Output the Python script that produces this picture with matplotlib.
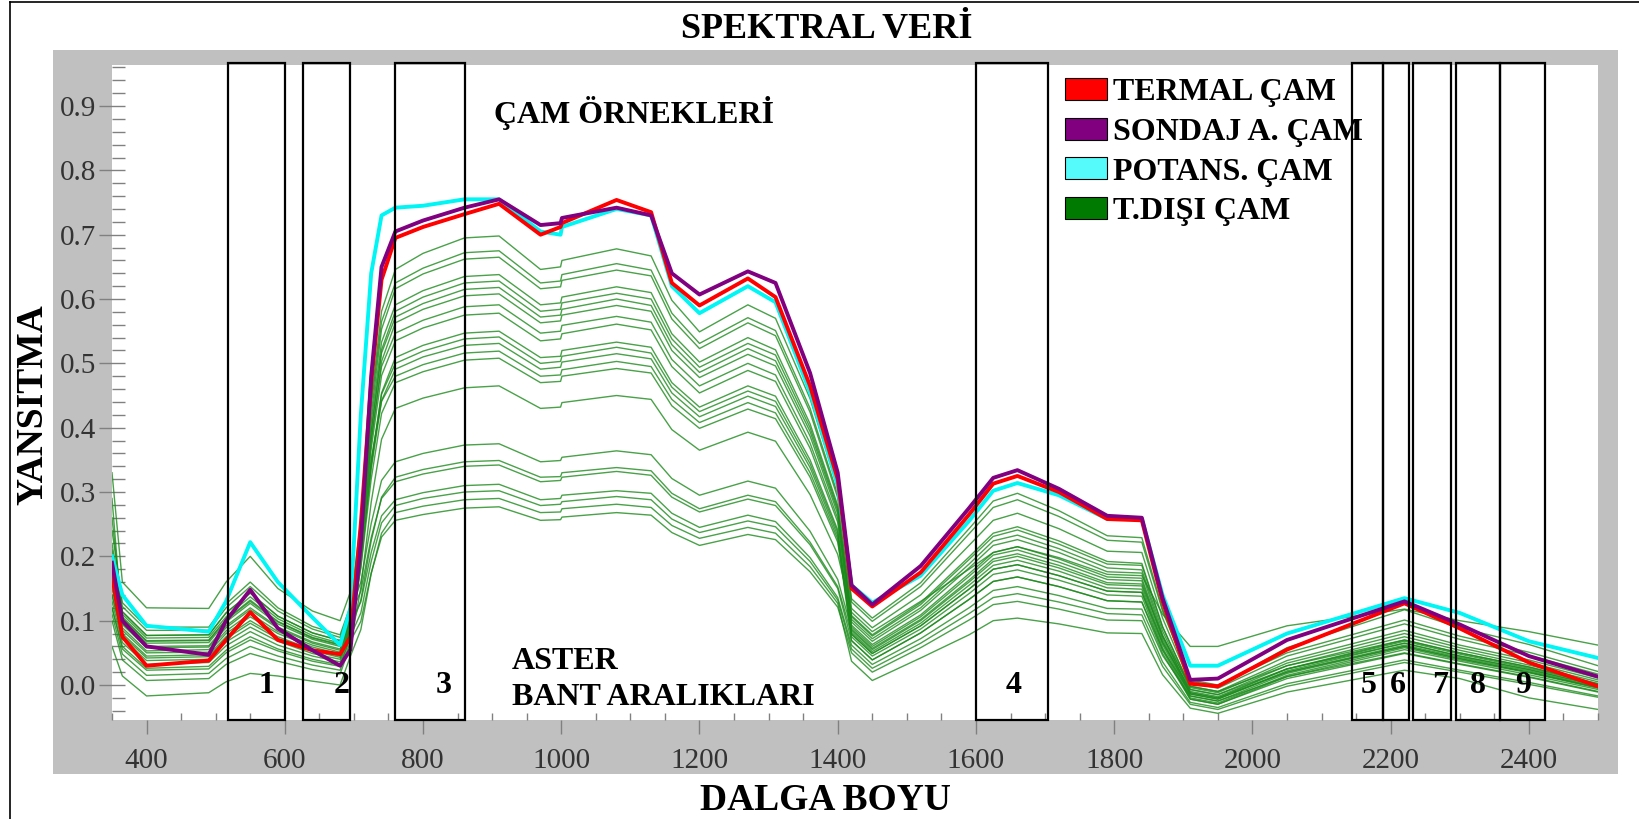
import matplotlib
matplotlib.use("Agg")
import matplotlib.pyplot as plt
from matplotlib.patches import Rectangle, Patch
from matplotlib.lines import Line2D
from matplotlib.ticker import MultipleLocator

plt.rcParams['font.family'] = ['Liberation Serif', 'DejaVu Serif']

W, H = 1639, 819

# wavelengths (nm) shared by every spectrum
wavelength = [350, 365, 400, 490, 515, 550, 590, 640, 680, 695, 710, 725, 740, 760,
              800, 860, 910, 970, 999, 1001, 1080, 1130, 1160, 1200, 1270, 1310, 1360,
              1400, 1420, 1450, 1520, 1590, 1625, 1660, 1720, 1790, 1840, 1870, 1910,
              1950, 2050, 2220, 2300, 2400, 2500]

termal = [0.170, 0.075, 0.030, 0.038, 0.070, 0.113, 0.070, 0.054, 0.048, 0.075, 0.250,
          0.470, 0.630, 0.695, 0.712, 0.732, 0.748, 0.700, 0.712, 0.718, 0.754, 0.735,
          0.625, 0.590, 0.632, 0.603, 0.465,
          0.320, 0.150, 0.122, 0.175, 0.265, 0.313, 0.325, 0.300, 0.258, 0.256, 0.130, 0.002,
          -0.002, 0.055, 0.127, 0.088, 0.035, -0.002]

sondaj = [0.190, 0.100, 0.060, 0.047, 0.100, 0.148, 0.088, 0.054, 0.030, 0.055, 0.220,
          0.480, 0.650, 0.705, 0.722, 0.742, 0.755, 0.715, 0.718, 0.726, 0.742, 0.730,
          0.640, 0.607, 0.643, 0.625, 0.485,
          0.330, 0.155, 0.125, 0.185, 0.275, 0.322, 0.334, 0.305, 0.263, 0.260, 0.135, 0.008,
          0.010, 0.070, 0.130, 0.094, 0.045, 0.013]

potans = [0.200, 0.140, 0.092, 0.083, 0.130, 0.222, 0.160, 0.105, 0.062, 0.120, 0.420,
          0.640, 0.730, 0.742, 0.745, 0.755, 0.755, 0.705, 0.700, 0.712, 0.740, 0.730,
          0.620, 0.578, 0.620, 0.595, 0.455,
          0.310, 0.155, 0.128, 0.170, 0.255, 0.302, 0.314, 0.295, 0.258, 0.258, 0.140, 0.030,
          0.030, 0.080, 0.135, 0.112, 0.068, 0.042]

t_disi = [
    [0.190, 0.104, 0.068, 0.069, 0.101, 0.130, 0.098, 0.073, 0.062, 0.107, 0.252, 0.442, 0.581, 0.646,
     0.671, 0.695, 0.698, 0.646, 0.650, 0.660, 0.678, 0.667, 0.598, 0.549, 0.591, 0.570, 0.445,
     0.306, 0.134, 0.104, 0.159, 0.243, 0.286, 0.298, 0.271, 0.232, 0.229, 0.118, 0.006, -0.002, 0.058,
     0.117, 0.089, 0.063, 0.030],
    [0.240, 0.128, 0.090, 0.090, 0.126, 0.160, 0.120, 0.091, 0.078, 0.123, 0.256, 0.434, 0.565, 0.625,
     0.648, 0.672, 0.675, 0.625, 0.628, 0.638, 0.655, 0.645, 0.578, 0.531, 0.571, 0.551, 0.430,
     0.296, 0.129, 0.099, 0.153, 0.235, 0.276, 0.288, 0.262, 0.225, 0.222, 0.115, 0.008, 0.000, 0.050,
     0.101, 0.076, 0.051, 0.021],
    [0.170, 0.096, 0.060, 0.061, 0.092, 0.120, 0.090, 0.067, 0.056, 0.101, 0.238, 0.420, 0.553, 0.616,
     0.639, 0.662, 0.665, 0.616, 0.619, 0.629, 0.645, 0.636, 0.569, 0.523, 0.563, 0.543, 0.424,
     0.291, 0.119, 0.089, 0.140, 0.217, 0.256, 0.267, 0.243, 0.208, 0.206, 0.104, 0.003, -0.005, 0.045,
     0.095, 0.071, 0.046, 0.017],
    [0.210, 0.114, 0.077, 0.078, 0.112, 0.143, 0.107, 0.081, 0.069, 0.114, 0.239, 0.409, 0.533, 0.591,
     0.613, 0.635, 0.638, 0.591, 0.594, 0.603, 0.619, 0.610, 0.546, 0.502, 0.540, 0.521, 0.406,
     0.279, 0.108, 0.078, 0.128, 0.199, 0.236, 0.246, 0.224, 0.192, 0.189, 0.091, -0.004, -0.012, 0.034,
     0.080, 0.058, 0.035, 0.008],
    [0.150, 0.080, 0.045, 0.047, 0.075, 0.100, 0.075, 0.055, 0.045, 0.090, 0.219, 0.393, 0.521, 0.581,
     0.603, 0.625, 0.628, 0.581, 0.584, 0.594, 0.609, 0.600, 0.538, 0.494, 0.531, 0.513, 0.400,
     0.275, 0.106, 0.076, 0.125, 0.195, 0.231, 0.241, 0.219, 0.188, 0.186, 0.090, -0.002, -0.010, 0.038,
     0.085, 0.062, 0.039, 0.011],
    [0.260, 0.110, 0.073, 0.074, 0.106, 0.137, 0.103, 0.077, 0.065, 0.110, 0.230, 0.395, 0.516, 0.572,
     0.593, 0.615, 0.618, 0.572, 0.575, 0.584, 0.600, 0.590, 0.529, 0.486, 0.523, 0.504, 0.394,
     0.271, 0.102, 0.072, 0.120, 0.188, 0.224, 0.233, 0.212, 0.182, 0.179, 0.084, -0.007, -0.015, 0.030,
     0.075, 0.054, 0.031, 0.005],
    [0.130, 0.066, 0.032, 0.035, 0.061, 0.083, 0.062, 0.045, 0.036, 0.081, 0.207, 0.377, 0.503, 0.563,
     0.584, 0.605, 0.608, 0.563, 0.566, 0.575, 0.590, 0.581, 0.520, 0.478, 0.514, 0.496, 0.387,
     0.266, 0.098, 0.068, 0.116, 0.182, 0.217, 0.226, 0.206, 0.176, 0.174, 0.078, -0.012, -0.020, 0.025,
     0.070, 0.050, 0.028, 0.002],
    [0.220, 0.122, 0.085, 0.085, 0.120, 0.153, 0.115, 0.087, 0.074, 0.119, 0.228, 0.382, 0.495, 0.547,
     0.567, 0.588, 0.591, 0.547, 0.550, 0.559, 0.573, 0.564, 0.506, 0.465, 0.500, 0.482, 0.376,
     0.259, 0.093, 0.063, 0.109, 0.173, 0.206, 0.215, 0.196, 0.168, 0.166, 0.075, -0.010, -0.018, 0.025,
     0.068, 0.048, 0.026, 0.001],
    [0.290, 0.094, 0.058, 0.059, 0.089, 0.117, 0.088, 0.065, 0.054, 0.099, 0.210, 0.367, 0.481, 0.535,
     0.555, 0.575, 0.578, 0.535, 0.538, 0.546, 0.561, 0.552, 0.495, 0.454, 0.489, 0.472, 0.368,
     0.253, 0.090, 0.060, 0.106, 0.169, 0.202, 0.210, 0.191, 0.164, 0.162, 0.071, -0.014, -0.022, 0.022,
     0.065, 0.045, 0.024, -0.001],
    [0.120, 0.056, 0.023, 0.025, 0.050, 0.070, 0.053, 0.037, 0.029, 0.074, 0.184, 0.340, 0.454, 0.509,
     0.528, 0.547, 0.550, 0.509, 0.511, 0.520, 0.533, 0.525, 0.470, 0.432, 0.465, 0.449, 0.350,
     0.241, 0.082, 0.052, 0.096, 0.155, 0.186, 0.194, 0.177, 0.151, 0.149, 0.063, -0.017, -0.025, 0.018,
     0.060, 0.041, 0.020, -0.004],
    [0.180, 0.102, 0.065, 0.066, 0.098, 0.127, 0.095, 0.071, 0.060, 0.105, 0.203, 0.347, 0.452, 0.500,
     0.519, 0.538, 0.541, 0.500, 0.503, 0.511, 0.525, 0.516, 0.463, 0.425, 0.457, 0.441, 0.344,
     0.237, 0.079, 0.049, 0.092, 0.149, 0.180, 0.187, 0.170, 0.146, 0.144, 0.058, -0.020, -0.028, 0.015,
     0.058, 0.039, 0.019, -0.005],
    [0.160, 0.085, 0.050, 0.051, 0.080, 0.106, 0.080, 0.059, 0.048, 0.093, 0.192, 0.336, 0.442, 0.491,
     0.510, 0.528, 0.531, 0.491, 0.494, 0.502, 0.515, 0.507, 0.454, 0.417, 0.449, 0.433, 0.338,
     0.232, 0.075, 0.045, 0.087, 0.142, 0.172, 0.179, 0.163, 0.140, 0.138, 0.054, -0.022, -0.030, 0.013,
     0.055, 0.037, 0.016, -0.007],
    [0.330, 0.160, 0.120, 0.119, 0.160, 0.200, 0.150, 0.115, 0.100, 0.145, 0.225, 0.350, 0.441, 0.480,
     0.498, 0.516, 0.519, 0.480, 0.482, 0.490, 0.503, 0.495, 0.444, 0.408, 0.439, 0.423, 0.330,
     0.227, 0.069, 0.039, 0.081, 0.133, 0.161, 0.168, 0.153, 0.131, 0.129, 0.049, -0.022, -0.030, 0.010,
     0.049, 0.032, 0.012, -0.011],
    [0.140, 0.077, 0.042, 0.044, 0.072, 0.096, 0.072, 0.053, 0.043, 0.088, 0.182, 0.320, 0.422, 0.470,
     0.487, 0.505, 0.508, 0.470, 0.472, 0.480, 0.492, 0.485, 0.434, 0.399, 0.429, 0.414, 0.323,
     0.222, 0.085, 0.055, 0.100, 0.160, 0.192, 0.200, 0.182, 0.156, 0.154, 0.067, -0.014, -0.022, 0.020,
     0.062, 0.043, 0.022, -0.003],
    [0.100, 0.039, 0.007, 0.010, 0.032, 0.049, 0.037, 0.024, 0.017, 0.062, 0.151, 0.284, 0.382, 0.430,
     0.446, 0.462, 0.465, 0.430, 0.432, 0.439, 0.450, 0.444, 0.397, 0.365, 0.393, 0.379, 0.296,
     0.203, 0.113, 0.083, 0.130, 0.180, 0.206, 0.215, 0.198, 0.172, 0.170, 0.110, 0.060, 0.060, 0.092,
     0.118, 0.100, 0.083, 0.062],
    [0.200, 0.114, 0.077, 0.078, 0.112, 0.143, 0.107, 0.081, 0.069, 0.114, 0.160, 0.251, 0.318, 0.347,
     0.360, 0.373, 0.375, 0.347, 0.349, 0.354, 0.364, 0.358, 0.321, 0.295, 0.317, 0.306, 0.239,
     0.164, 0.087, 0.057, 0.102, 0.163, 0.196, 0.204, 0.186, 0.159, 0.157, 0.076, -0.002, -0.010, 0.030,
     0.070, 0.050, 0.028, 0.002],
    [0.140, 0.072, 0.038, 0.040, 0.067, 0.090, 0.068, 0.049, 0.040, 0.085, 0.132, 0.224, 0.292, 0.323,
     0.335, 0.347, 0.349, 0.323, 0.324, 0.330, 0.338, 0.333, 0.298, 0.274, 0.295, 0.285, 0.222,
     0.153, 0.079, 0.049, 0.092, 0.149, 0.180, 0.187, 0.170, 0.146, 0.144, 0.066, -0.007, -0.015, 0.025,
     0.065, 0.045, 0.024, -0.001],
    [0.190, 0.106, 0.069, 0.070, 0.102, 0.132, 0.099, 0.074, 0.063, 0.108, 0.146, 0.229, 0.290, 0.316,
     0.328, 0.340, 0.342, 0.316, 0.318, 0.323, 0.332, 0.326, 0.292, 0.269, 0.289, 0.279, 0.218,
     0.150, 0.069, 0.039, 0.081, 0.133, 0.161, 0.168, 0.153, 0.131, 0.129, 0.055, -0.012, -0.020, 0.020,
     0.060, 0.041, 0.020, -0.004],
    [0.170, 0.089, 0.053, 0.055, 0.084, 0.111, 0.083, 0.062, 0.051, 0.096, 0.129, 0.206, 0.263, 0.288,
     0.299, 0.310, 0.312, 0.288, 0.290, 0.295, 0.302, 0.298, 0.267, 0.245, 0.264, 0.254, 0.198,
     0.136, 0.062, 0.032, 0.072, 0.120, 0.147, 0.153, 0.139, 0.119, 0.118, 0.046, -0.017, -0.025, 0.013,
     0.050, 0.033, 0.013, -0.010],
    [0.120, 0.060, 0.026, 0.029, 0.054, 0.075, 0.056, 0.040, 0.031, 0.076, 0.112, 0.192, 0.252, 0.279,
     0.290, 0.300, 0.302, 0.279, 0.281, 0.285, 0.293, 0.288, 0.258, 0.237, 0.255, 0.246, 0.192,
     0.132, 0.056, 0.026, 0.065, 0.111, 0.136, 0.142, 0.129, 0.111, 0.109, 0.036, -0.027, -0.035, 0.002,
     0.039, 0.023, 0.004, -0.017],
    [0.060, 0.014, -0.017, -0.012, 0.005, 0.018, 0.014, 0.006, 0.000, 0.045, 0.086, 0.173, 0.236, 0.268,
     0.278, 0.288, 0.290, 0.268, 0.269, 0.274, 0.281, 0.276, 0.248, 0.228, 0.245, 0.236, 0.184,
     0.127, 0.037, 0.007, 0.042, 0.078, 0.100, 0.104, 0.095, 0.081, 0.080, 0.016, -0.036, -0.044, -0.011,
     0.023, 0.010, -0.020, -0.038],
    [0.110, 0.048, 0.015, 0.018, 0.041, 0.060, 0.045, 0.031, 0.023, 0.068, 0.099, 0.174, 0.230, 0.256,
     0.265, 0.275, 0.277, 0.256, 0.257, 0.261, 0.268, 0.264, 0.237, 0.217, 0.234, 0.226, 0.176,
     0.121, 0.050, 0.020, 0.058, 0.101, 0.125, 0.130, 0.118, 0.101, 0.100, 0.029, -0.030, -0.038, -0.002,
     0.035, 0.020, 0.001, -0.019],
]

# ASTER band ranges (nm) and their label positions
band_names = ['1', '2', '3', '4', '5', '6', '7', '8', '9']
band_start = [518, 627, 760, 1600, 2144, 2189, 2233, 2294, 2358]
band_end = [601, 695, 861, 1704, 2189, 2227, 2288, 2358, 2424]
band_label_x = [573, 682, 830, 1655, 2168, 2211, 2271, 2327, 2392]

legend_names = ['TERMAL ÇAM', 'SONDAJ A. ÇAM', 'POTANS. ÇAM', 'T.DIŞI ÇAM']

fig = plt.figure(figsize=(W / 100, H / 100), dpi=100)

# grey frame and the thin outer border
fig.patches.append(Rectangle((53 / W, 1 - 774 / H), (1618 - 53) / W, (774 - 50) / H,
                             transform=fig.transFigure, facecolor='#c0c0c0',
                             edgecolor='none', zorder=-5))
fig.add_artist(Line2D([9.5 / W, 9.5 / W], [0, 1 - 1.5 / H], color='black', lw=1.2))
fig.add_artist(Line2D([9.5 / W, 1], [1 - 1.5 / H, 1 - 1.5 / H], color='black', lw=1.2))

ax = fig.add_axes([112 / W, 1 - 720 / H, 1486 / W, 655 / H])
ax.set_zorder(1)
ax.set_facecolor('white')
ax.set_xlim(350, 2500)
ax.set_ylim(-0.0544, 0.9638)
for s in ax.spines.values():
    s.set_visible(False)

for spec in t_disi:
    ax.plot(wavelength, spec, color='#1b8a1b', lw=1.0, alpha=0.8, zorder=2)
ax.plot(wavelength, potans, color='#00f5f5', lw=2.8, zorder=3)
ax.plot(wavelength, termal, color='#ff0000', lw=2.8, zorder=4)
ax.plot(wavelength, sondaj, color='#800080', lw=2.8, zorder=5)

for x0, x1 in zip(band_start, band_end):
    ax.add_patch(Rectangle((x0, -0.0544), x1 - x0, 1.021, fill=False,
                           edgecolor='black', lw=1.6, clip_on=False, zorder=6))
for name, x in zip(band_names, band_label_x):
    ax.text(x, 0.0, name, ha='center', va='center', fontsize=23,
            fontweight='bold', zorder=7)

ax.text(929, 0.037, 'ASTER', ha='left', va='center', fontsize=23, fontweight='bold')
ax.text(929, -0.020, 'BANT ARALIKLARI', ha='left', va='center', fontsize=23,
        fontweight='bold')
ax.text(902, 0.889, 'ÇAM ÖRNEKLERİ', ha='left', va='center', fontsize=23,
        fontweight='bold')

# ticks
ax.xaxis.set_minor_locator(MultipleLocator(50))
ax.yaxis.set_minor_locator(MultipleLocator(0.02))
ax.set_yticks([i / 10 for i in range(10)])
ax.set_yticklabels([f'{i / 10:.1f}' for i in range(10)])
ax.set_xticks(list(range(400, 2401, 200)))
ax.tick_params(axis='x', which='major', direction='out', length=10, width=1,
               color='#808080', labelsize=21, labelcolor='#333333', pad=10)
ax.tick_params(axis='x', which='minor', direction='in', length=5, width=1, color='#808080')
ax.tick_params(axis='y', which='major', direction='inout', length=19, width=1,
               color='#808080', labelsize=21, labelcolor='#333333', pad=2)
ax.tick_params(axis='y', which='minor', direction='in', length=9.5, width=1, color='#808080')

handles = [Patch(facecolor='#ff0000', edgecolor='black', lw=0.8),
           Patch(facecolor='#800080', edgecolor='black', lw=0.8),
           Patch(facecolor='#55fafa', edgecolor='black', lw=0.8),
           Patch(facecolor='#007a00', edgecolor='black', lw=0.8)]
leg = fig.legend(handles, legend_names, loc='upper left',
                 bbox_to_anchor=(1065 / W, 1 - 78 / H), frameon=False,
                 prop={'family': 'Liberation Serif', 'weight': 'bold', 'size': 23},
                 handlelength=1.3, handleheight=0.68, handletextpad=0.2,
                 labelspacing=0.33, borderpad=0, borderaxespad=0)
leg.set_zorder(8)

fig.text(827 / W, 1 - 29 / H, 'SPEKTRAL VERİ', ha='center', va='center',
         fontsize=26, fontweight='bold')
fig.text(33 / W, 1 - 405 / H, 'YANSITMA', rotation=90, ha='center', va='center',
         fontsize=27, fontweight='bold')
fig.text(825 / W, 1 - 800 / H, 'DALGA BOYU', ha='center', va='center',
         fontsize=27, fontweight='bold')

fig.savefig('out.png', dpi=100)
